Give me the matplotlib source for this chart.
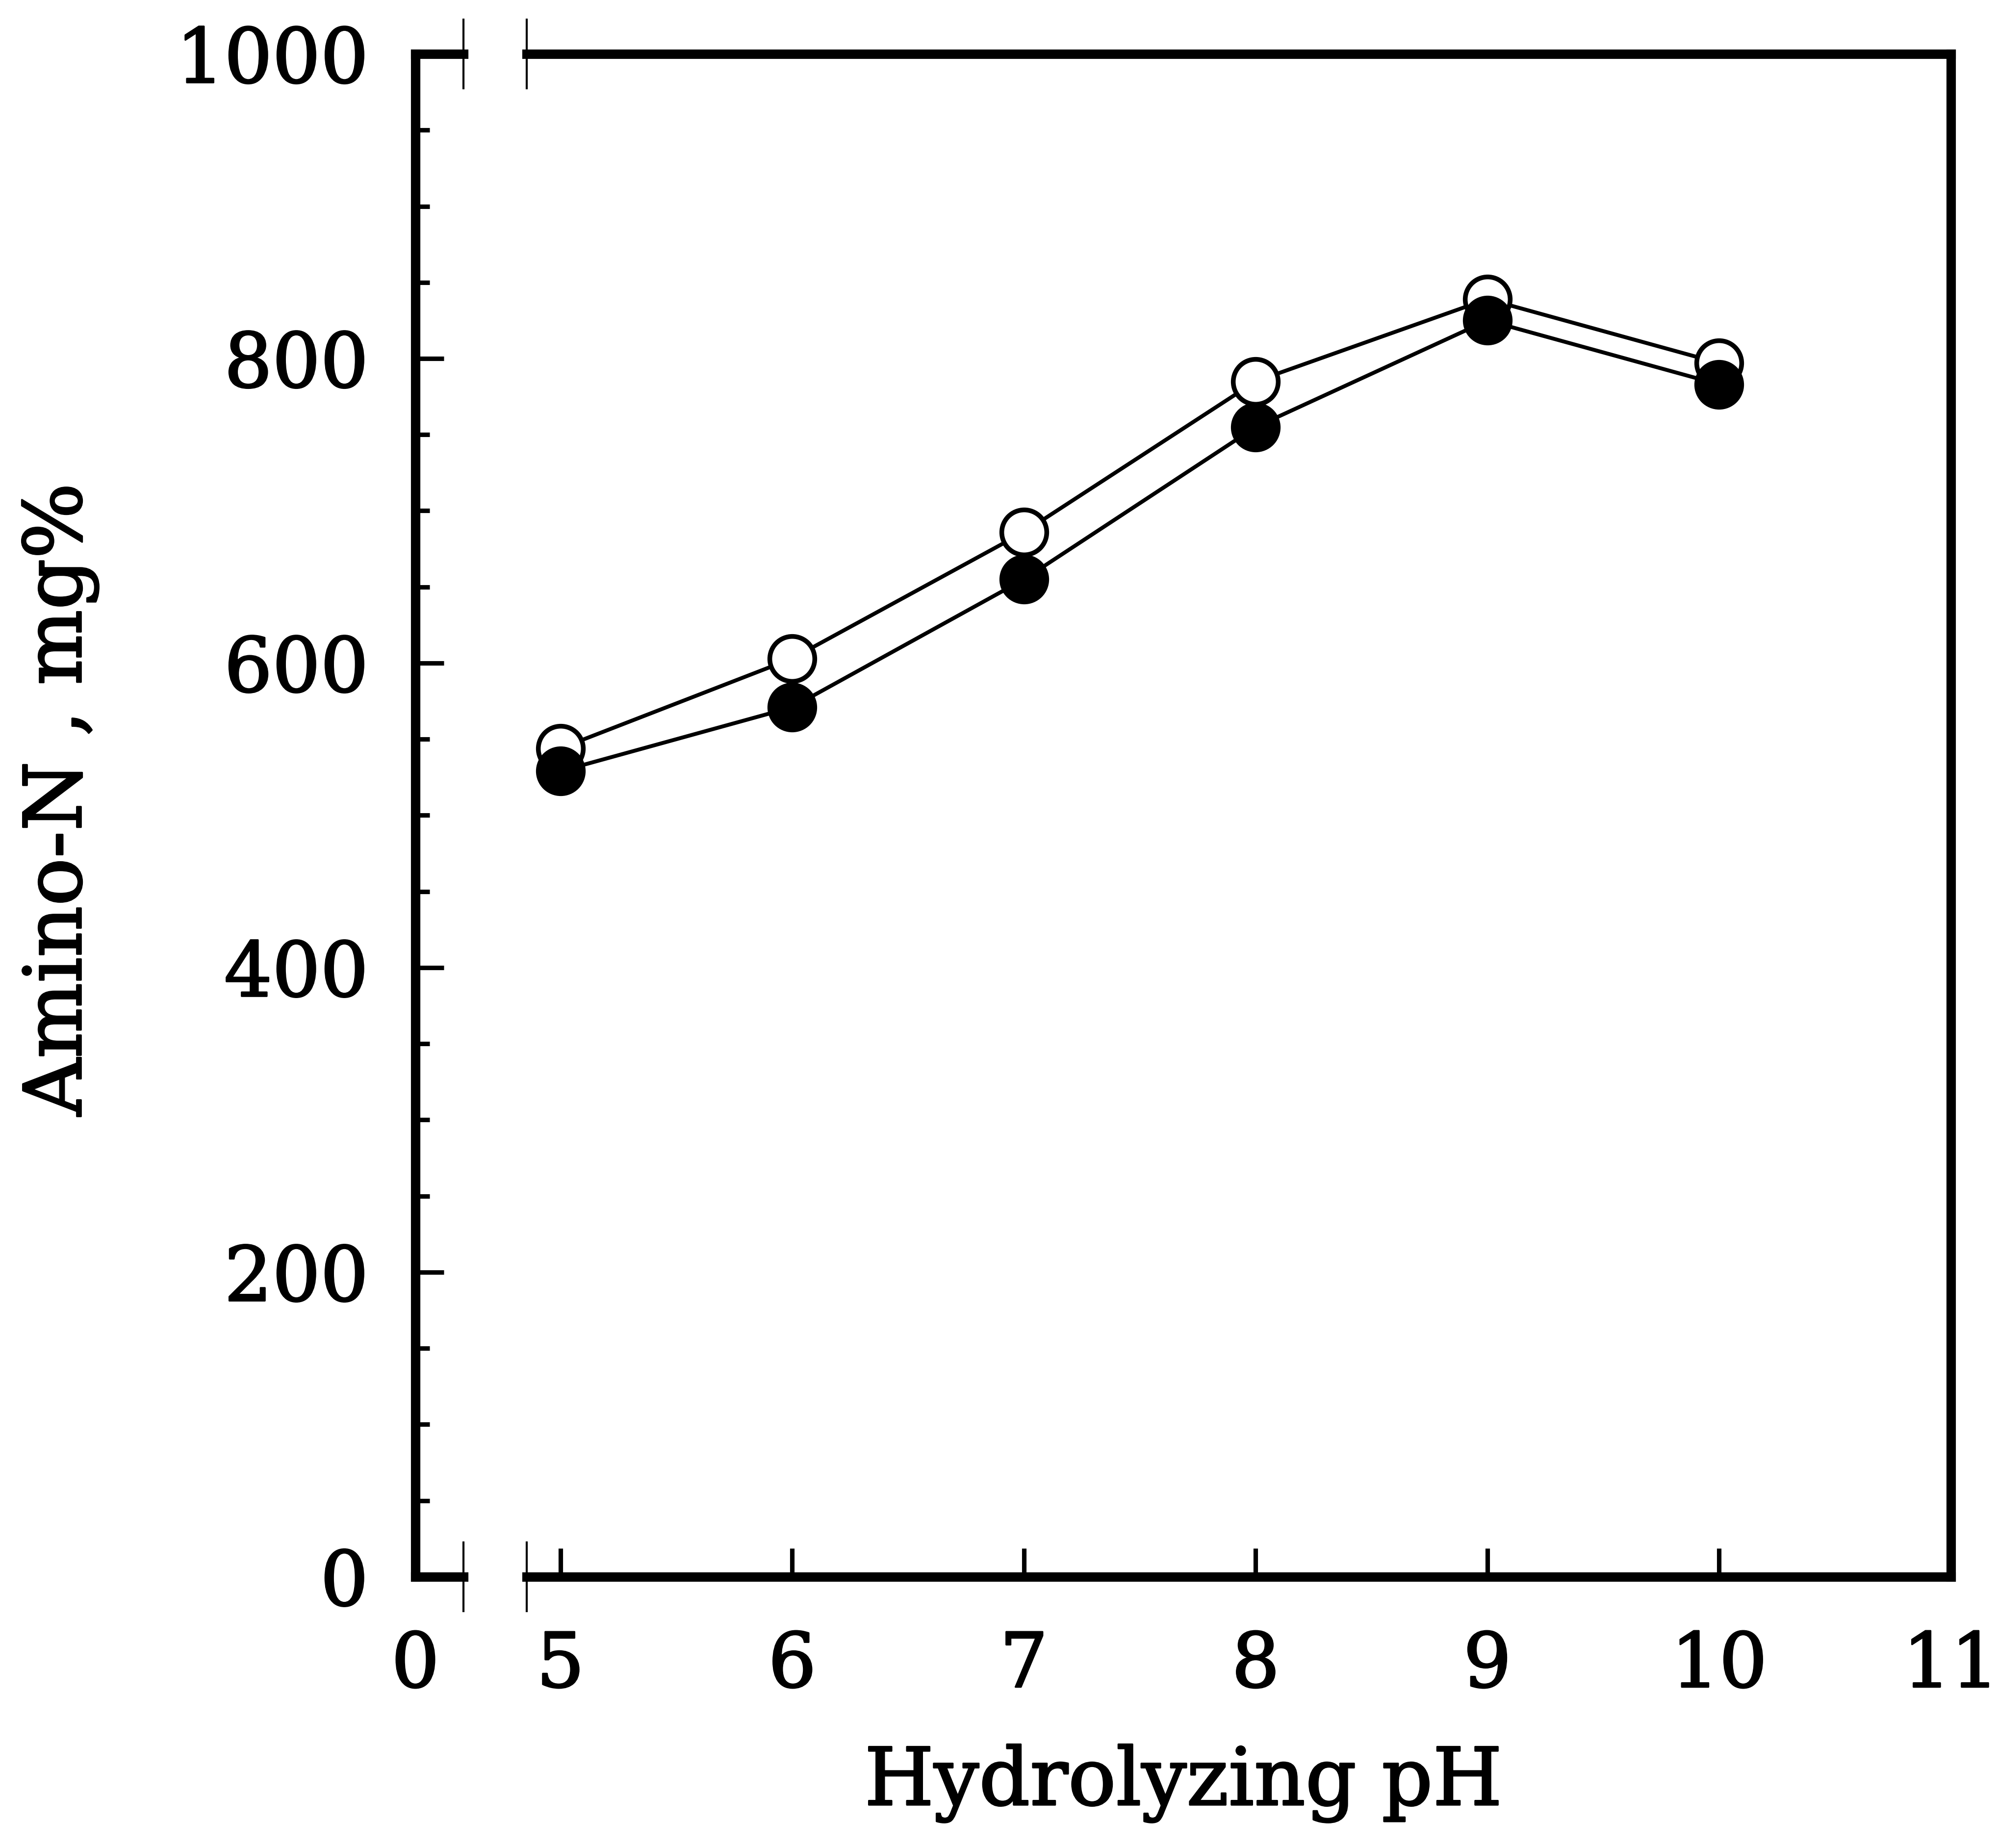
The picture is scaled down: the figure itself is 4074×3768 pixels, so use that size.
import numpy as np
import matplotlib
matplotlib.use("Agg")
import matplotlib.pyplot as plt
import matplotlib.patheffects as pe
from matplotlib.ticker import MultipleLocator

plt.rcParams['font.family'] = ['DejaVu Serif']

# Data
ph = [5, 6, 7, 8, 9, 10]
amino_open = [544, 603, 686, 785, 839, 797]    # open circles
amino_filled = [529, 571, 655, 755, 825, 783]  # filled circles

x_ticks = [5, 6, 7, 8, 9, 10, 11]
y_ticks = [0, 200, 400, 600, 800, 1000]

# slightly heavier strokes than plain DejaVu Serif
thick = [pe.withStroke(linewidth=0.8, foreground='black')]

fig = plt.figure(figsize=(4074 / 300, 3768 / 300), dpi=300)

# narrow left piece holding x=0 and the y axis, then the main piece after the break
ax0 = fig.add_axes([0.2079, 0.1468, 0.0241, 0.8240])
ax = fig.add_axes([0.2636, 0.1468, 0.7128, 0.8240], sharey=ax0)

spine_w = 4.6
for a in (ax0, ax):
    for s in a.spines.values():
        s.set_linewidth(spine_w)
ax0.spines['right'].set_visible(False)
ax.spines['left'].set_visible(False)

# plot the two series
ax.plot(ph, amino_open, '-', color='black', lw=1.9, marker='o', ms=22,
        mfc='white', mec='black', mew=2.3, zorder=3, clip_on=False)
ax.plot(ph, amino_filled, '-', color='black', lw=1.9, marker='o', ms=22,
        mfc='black', mec='black', mew=2.3, zorder=4, clip_on=False)

# y axis
ax0.set_ylim(0, 1000)
ax0.set_yticks(y_ticks)
ax0.yaxis.set_minor_locator(MultipleLocator(50))
ax0.tick_params(axis='y', which='major', direction='in', length=14, width=2.2,
                pad=23, labelsize=37)
ax0.tick_params(axis='y', which='minor', direction='in', length=7, width=2.2)

# x axis, left piece
ax0.set_xlim(0, 0.2)
ax0.set_xticks([0])
ax0.set_xticklabels(['0'])
ax0.tick_params(axis='x', direction='in', length=14, width=2.2, pad=26, labelsize=37)

# x axis, main piece
ax.set_xlim(4.854, 11)
ax.set_xticks(x_ticks)
ax.tick_params(axis='x', direction='in', length=14, width=2.2, pad=26, labelsize=37)
ax.tick_params(axis='y', which='both', left=False, right=False, labelleft=False)

for lab in ax0.get_yticklabels() + ax0.get_xticklabels() + ax.get_xticklabels():
    lab.set_path_effects(thick)

# break marks on top and bottom spines
d = 0.0225
for yy in (0, 1):
    ax0.plot([1, 1], [yy - d, yy + d], transform=ax0.transAxes, color='black',
             lw=1.0, clip_on=False)
    ax.plot([0, 0], [yy - d, yy + d], transform=ax.transAxes, color='black',
            lw=1.0, clip_on=False)

fig.text(2413 / 4074, 1 - 3680 / 3768, 'Hydrolyzing pH', ha='center',
         va='baseline', fontsize=39, path_effects=thick)
fig.text(0.030, 0.5674, 'Amino-N , mg%', rotation=90, ha='center',
         va='center', fontsize=39, path_effects=thick)

fig.savefig('out.png', dpi=300)
